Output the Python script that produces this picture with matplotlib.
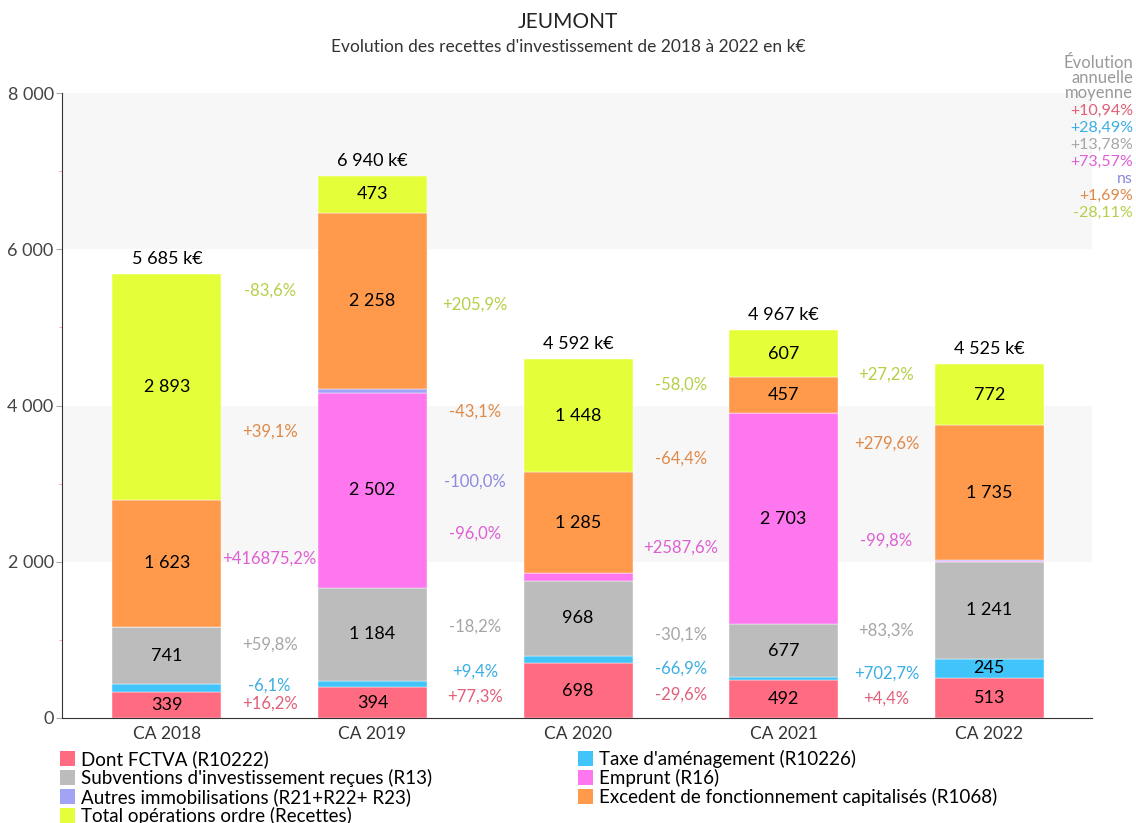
import numpy as np
import matplotlib
matplotlib.use("Agg")
import matplotlib.pyplot as plt
from matplotlib.patches import Patch

plt.rcParams['font.family'] = ['Lato', 'DejaVu Sans']

years = ['CA 2018', 'CA 2019', 'CA 2020', 'CA 2021', 'CA 2022']
series_names = [
    "Dont FCTVA (R10222)",
    "Taxe d'aménagement (R10226)",
    "Subventions d'investissement reçues (R13)",
    "Emprunt (R16)",
    "Autres immobilisations (R21+R22+ R23)",
    "Excedent de fonctionnement capitalisés (R1068)",
    "Total opérations ordre (Recettes)",
]
fctva = [339, 394, 698, 492, 513]
taxe = [90, 84, 92, 31, 245]
subventions = [741, 1184, 968, 677, 1241]
emprunt = [0.6, 2502, 100.6, 2703, 5.4]
autres = [0, 45, 0, 0, 14]
excedent = [1623, 2258, 1285, 457, 1735]
ordre = [2893, 473, 1448, 607, 772]
totals = [5685, 6940, 4592, 4967, 4525]
cagr = ['+10,94%', '+28,49%', '+13,78%', '+73,57%', 'ns', '+1,69%', '-28,11%']

# year-on-year evolution labels (None = not shown)
evo_fctva = ['+16,2%', '+77,3%', '-29,6%', '+4,4%']
evo_taxe = ['-6,1%', '+9,4%', '-66,9%', '+702,7%']
evo_subventions = ['+59,8%', '-18,2%', '-30,1%', '+83,3%']
evo_emprunt = ['+416875,2%', '-96,0%', '+2587,6%', '-99,8%']
evo_autres = [None, '-100,0%', None, None]
evo_excedent = ['+39,1%', '-43,1%', '-64,4%', '+279,6%']
evo_ordre = ['-83,6%', '+205,9%', '-58,0%', '+27,2%']

colors = ['#ff6b81', '#40c4fa', '#bcbcbc', '#ff77ee', '#a3a3f5', '#ff9a4d', '#e4ff3a']
text_colors = ['#e0607a', '#3aaee2', '#a6a6a6', '#de5fd4', '#8a8ae0', '#e08848', '#b4d048']

data = np.array([fctva, taxe, subventions, emprunt, autres, excedent, ordre], dtype=float)
evos = [evo_fctva, evo_taxe, evo_subventions, evo_emprunt, evo_autres, evo_excedent, evo_ordre]
x = np.arange(len(years))

fig = plt.figure(figsize=(11.36, 8.23), dpi=100)
ax = fig.add_axes([62 / 1136, 1 - 718 / 823, 1030 / 1136, 625 / 823])

# background bands
for lo in (2000, 6000):
    ax.axhspan(lo, lo + 2000, color='#f7f7f7', zorder=0, lw=0)

bottoms = np.zeros(len(years))
mids = []
for i, vals in enumerate(data):
    ax.bar(x, vals, bottom=bottoms, width=0.53, color=colors[i], zorder=2,
           edgecolor='white', linewidth=0.3)
    mids.append(bottoms + vals / 2)
    for j, v in enumerate(vals):
        if v >= 200:
            ax.text(x[j], bottoms[j] + v / 2, f"{int(round(v)):,}".replace(',', ' '),
                    ha='center', va='center', fontsize=13, color='black', zorder=3)
    bottoms = bottoms + vals
mids = np.array(mids)

for j, t in enumerate(totals):
    ax.text(x[j], bottoms[j] + 90, f"{t:,} k€".replace(',', ' '), ha='center', va='bottom',
            fontsize=13, color='black')

# evolution labels between bars
for i, labels in enumerate(evos):
    for j, lbl in enumerate(labels):
        if lbl is None:
            continue
        ax.text(x[j] + 0.5, (mids[i, j] + mids[i, j + 1]) / 2, lbl, ha='center', va='center',
                fontsize=12, color=text_colors[i], zorder=3)

ax.set_xlim(-0.51, 4.5)
ax.set_ylim(0, 8000)
ax.set_xticks(x)
ax.set_xticklabels(years, fontsize=12.5, color='#333333')
ax.set_yticks([0, 2000, 4000, 6000, 8000])
ax.set_yticklabels(['0', '2 000', '4 000', '6 000', '8 000'], fontsize=13, color='#444444')
ax.set_yticks([1000, 3000, 5000, 7000], minor=True)
ax.tick_params(axis='y', which='major', length=4, color='#aaaaaa', pad=2)
ax.tick_params(axis='y', which='minor', length=2, color='#f0a0a0')
ax.tick_params(axis='x', length=0, pad=6)
for s in ('top', 'right'):
    ax.spines[s].set_visible(False)
ax.spines['left'].set_color('#333333')
ax.spines['bottom'].set_color('#333333')

fig.text(0.5, 1 - 22 / 823, 'JEUMONT', ha='center', va='center', fontsize=15, color='#222222')
fig.text(0.5, 1 - 47 / 823, "Evolution des recettes d'investissement de 2018 à 2022 en k€",
         ha='center', va='center', fontsize=12.5, color='#333333')

# average annual evolution
fig.text(1133 / 1136, 1 - 78 / 823, 'Évolution\nannuelle\nmoyenne', ha='right', va='center',
         fontsize=12, color='#999999', linespacing=0.95)
for i, c in enumerate(cagr):
    fig.text(1133 / 1136, 1 - (111 + i * 17) / 823, c, ha='right', va='center',
             fontsize=11.5, color=text_colors[i])

# legend, two columns
left_idx = [0, 2, 4, 6]
right_idx = [1, 3, 5]
for idxs, xpos in ((left_idx, 60 / 1136), (right_idx, 578 / 1136)):
    handles = [Patch(facecolor=colors[k], edgecolor='none') for k in idxs]
    fig.legend(handles, [series_names[k] for k in idxs], loc='upper left',
               bbox_to_anchor=(xpos, 1 - 750 / 823), frameon=False, fontsize=13.5,
               handlelength=0.8, handleheight=0.9, handletextpad=0.3,
               labelspacing=0.05, borderaxespad=0, borderpad=0)

fig.savefig('out.png', dpi=100)
